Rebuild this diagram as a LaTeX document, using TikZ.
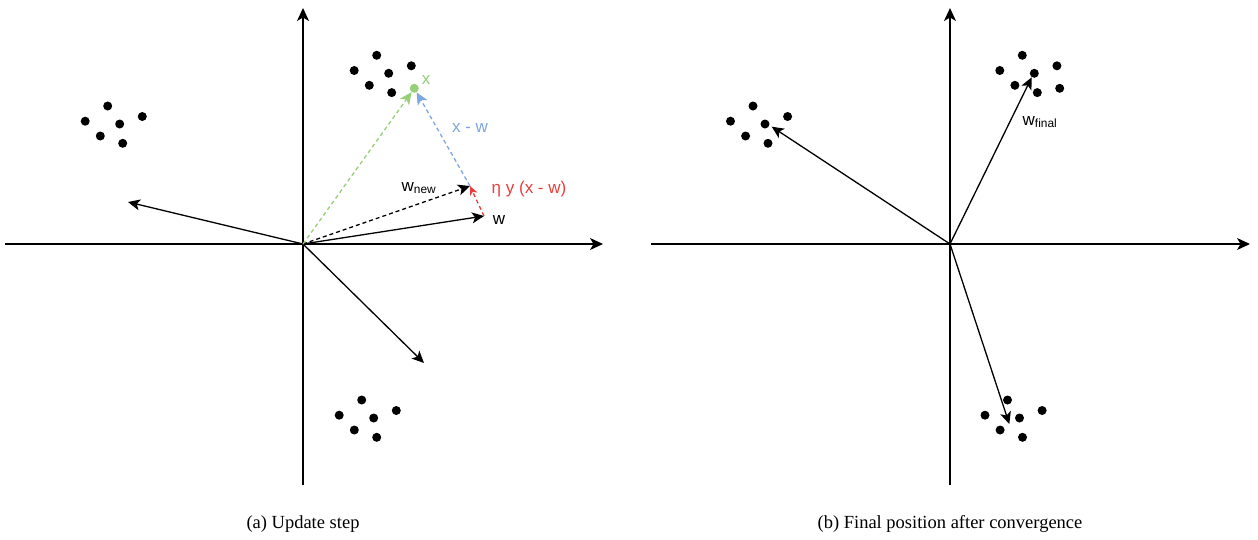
\documentclass[tikz,border=0pt]{standalone}
\usepackage{fontspec}
\setmainfont{Liberation Serif}
\newfontfamily\labelfont{Liberation Sans}
\usetikzlibrary{arrows.meta}
\definecolor{ptgreen}{HTML}{97D077}
\definecolor{diffblue}{HTML}{7EA6E0}
\definecolor{stepred}{HTML}{EA3D3D}
\tikzset{
  axis/.style={line width=1.3pt, -{Stealth[length=13pt, width=12pt, inset=3.5pt]}},
  vec/.style={line width=1.3pt, -{Stealth[length=12pt, width=11pt, inset=3pt]}},
  dvec/.style={vec, dash pattern=on 4pt off 3pt},
  pt/.style={circle, fill=black, inner sep=0pt, minimum size=9pt},
  lbl/.style={font=\labelfont\fontsize{17}{20}\selectfont, inner sep=0pt},
  caption/.style={font=\fontsize{18.5}{22}\selectfont, inner sep=0pt},
}
\begin{document}
\begin{tikzpicture}[x=1pt, y=-1pt]
  \useasboundingbox (0,0) rectangle (1258,539);

  % (a) axes
  \coordinate (oa) at (303,244);
  \coordinate (axl) at (5,244);
  \coordinate (axr) at (603,244);
  \coordinate (ayb) at (303,485);
  \coordinate (ayt) at (303,8);
  \draw[axis] (axl) -- (axr);
  \draw[axis] (ayb) -- (ayt);

  % (b) axes
  \coordinate (ob) at (950,244);
  \coordinate (bxl) at (651,244);
  \coordinate (bxr) at (1250,244);
  \coordinate (byb) at (950,485);
  \coordinate (byt) at (950,8);
  \draw[axis] (bxl) -- (bxr);
  \draw[axis] (byb) -- (byt);

  % clusters of data points
  \foreach \cl/\cx/\cy in {la/107.7/106, ta/376.7/55.3, ba/361.7/400,
                           lb/753/106, tb/1022.3/55.3, bb/1007.5/400}
    \foreach \dx/\dy [count=\i] in {0/0, -22.5/15.2, 12/18, 34.6/10.5, -7.4/30, 15/37.3}
      \node[pt] (\cl-\i) at (\cx+\dx,\cy+\dy) {};
  \node[pt] (tb-7) at (1059.7,88.3) {};

  % sample x
  \node[pt, fill=ptgreen] (xa) at (414.3,88.3) {};
  \node[lbl, text=ptgreen] (xlbl) at (426,80) {x};

  % (a) vectors
  \coordinate (pa) at (128,202);
  \coordinate (qa) at (424,363);
  \coordinate (wa) at (484,216);
  \coordinate (wnew) at (470,186);
  \draw[vec] (oa) -- (pa);
  \draw[vec] (oa) -- (qa);
  \draw[vec] (oa) -- (wa);
  \draw[dvec] (oa) -- (wnew);
  \draw[dvec, ptgreen] (oa) -- (xa);
  \draw[dvec, diffblue] (wnew) -- (xa);
  \draw[dvec, stepred, -{Stealth[length=9pt, width=8pt, inset=2.5pt]}] (wa) -- (wnew);
  \node[lbl] (wlbl) at (499,220) {w};
  \node[lbl] (wnewlbl) at (419,188) {w\textsubscript{new}};
  \node[lbl, text=diffblue] (difflbl) at (470,128) {x - w};
  \node[lbl, text=stepred] (steplbl) at (529,189) {η y (x - w)};

  % (b) vectors
  \coordinate (pb) at (771.7,126.7);
  \coordinate (wfin) at (1031.7,77.3);
  \coordinate (qb) at (1009.3,424);
  \draw[vec] (ob) -- (pb);
  \draw[vec] (ob) -- (wfin);
  \draw[vec] (ob) -- (qb);
  \node[lbl] (wfinlbl) at (1040,122) {w\textsubscript{final}};

  % captions
  \node[caption] (capa) at (303,524) {(a) Update step};
  \node[caption] (capb) at (950,524) {(b) Final position after convergence};
\end{tikzpicture}
\end{document}
